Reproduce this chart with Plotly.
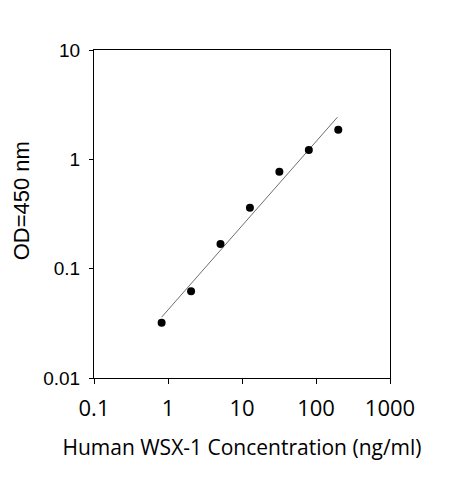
import plotly.graph_objects as go

# standard curve points (2.5-fold dilutions)
conc = [0.82, 2.05, 5.12, 12.8, 32, 80, 200]
od = [0.032, 0.062, 0.168, 0.36, 0.77, 1.22, 1.86]

# fitted line end points
fit_x = [0.82, 195]
fit_y = [0.036, 2.43]

x_ticks = [0.1, 1, 10, 100, 1000]
x_labels = ['0.1', '1', '10', '100', '1000']
y_ticks = [0.01, 0.1, 1, 10]
y_labels = ['0.01', '0.1', '1', '10']

fit = go.Scatter(
    x=fit_x, y=fit_y,
    mode='lines',
    line=dict(color='#6e6e6e', width=1),
    hoverinfo='skip'
)
pts = go.Scatter(
    x=conc, y=od,
    mode='markers',
    marker=dict(color='black', size=8)
)

layout = go.Layout(
    width=463, height=480,
    margin=dict(l=86, r=81, t=42, b=110),
    paper_bgcolor='white', plot_bgcolor='white',
    showlegend=False,
    xaxis=dict(
        type='log', range=[-1, 3],
        tickvals=x_ticks, ticktext=x_labels,
        ticks='outside', ticklen=5, tickcolor='black',
        ticklabelstandoff=6,
        showline=True, linecolor='black', linewidth=1, mirror=True,
        showgrid=False, zeroline=False, automargin=False,
        tickfont=dict(family='Open Sans', size=22, color='black'),
        title=dict(text='Human WSX-1 Concentration (ng/ml)', standoff=18,
                   font=dict(family='Open Sans', size=21, color='black'))
    ),
    yaxis=dict(
        type='log', range=[-2, 1],
        tickvals=y_ticks, ticktext=y_labels,
        ticks='outside', ticklen=4, tickcolor='black',
        ticklabelstandoff=5,
        showline=True, linecolor='black', linewidth=1, mirror=True,
        showgrid=False, zeroline=False, automargin=False,
        tickfont=dict(family='Liberation Sans', size=19, color='black')
    ),
    # y title as annotation so it can sit further left
    annotations=[dict(
        text='OD=450 nm', textangle=-90, showarrow=False,
        xref='paper', yref='paper', x=-0.245, y=0.54,
        xanchor='center', yanchor='middle',
        font=dict(family='Liberation Sans', size=22, color='black')
    )]
)

fig = go.Figure(data=[fit, pts], layout=layout)
fig.write_html('out.html')
